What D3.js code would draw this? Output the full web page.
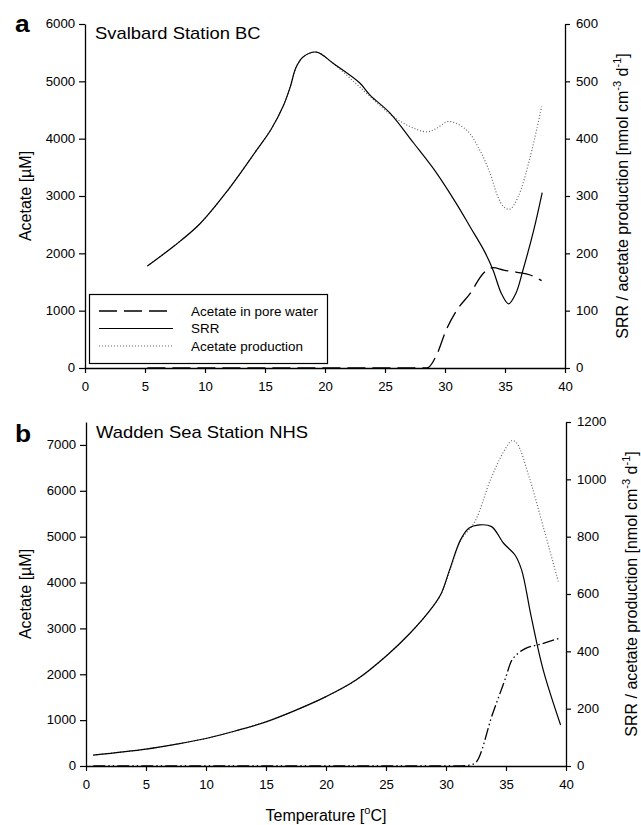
<!DOCTYPE html>
<html>
<head>
<meta charset="utf-8">
<script src="https://cdn.jsdelivr.net/npm/d3@7"></script>
<style>
  body { margin: 0; background: #fff; }
  svg { display: block; }
</style>
</head>
<body>
<div class="canvas"></div>
<script>
// ---- data ----
const tempTicks = [0, 5, 10, 15, 20, 25, 30, 35, 40];

// panel a: Svalbard Station BC
const aLeftTicks = [0, 1000, 2000, 3000, 4000, 5000, 6000];
const aRightTicks = [0, 100, 200, 300, 400, 500, 600];
const aSrrT = [5.2, 7.5, 9.6, 11.9, 14.3, 15.5, 16.5, 17.1, 17.6, 18.2, 19.3, 20.7, 22.9, 23.75, 25.4, 27.4, 29.3, 31.0, 32.1, 33.3, 34.0, 34.7, 35.3, 35.9, 36.5, 37.4, 38.1];
const aSrr = [178, 214, 252, 310, 380, 416, 456, 490, 525, 543, 551, 531, 497, 476, 445, 392, 340, 285, 246, 203, 171, 130, 112, 130, 171, 241, 306];
const aProdT = [5.2, 7.5, 9.6, 11.9, 14.3, 15.5, 16.5, 17.1, 17.6, 18.2, 19.3, 20.4, 22.9, 25.4, 27.1, 28.5, 29.3, 30.3, 31.8, 32.9, 33.75, 34.4, 34.9, 35.4, 36.1, 37.1, 38.05];
const aProd = [178, 214, 252, 310, 380, 416, 456, 490, 525, 543, 551, 536, 490, 443, 421, 412, 418, 430, 415, 380, 340, 299, 281, 277, 299, 368, 456];
const aPoreT = [5.2, 25.0, 28.5, 29.3, 30.1, 31.0, 32.1, 33.2, 34.0, 34.9, 36.0, 37.1, 38.05];
const aPore = [0, 0, 0, 227, 663, 1012, 1303, 1652, 1750, 1709, 1669, 1622, 1523];

// panel b: Wadden Sea Station NHS
const bLeftTicks = [0, 1000, 2000, 3000, 4000, 5000, 6000, 7000];
const bRightTicks = [0, 200, 400, 600, 800, 1000, 1200];
const bSrrT = [0.6, 5.0, 7.5, 10.0, 12.5, 15.0, 17.5, 20.0, 22.5, 25.0, 27.0, 28.9, 29.6, 30.3, 31.2, 31.9, 32.8, 33.8, 34.8, 35.75, 36.3, 37.1, 38.1, 39.55];
const bSrr = [38, 59, 76, 96, 123, 154, 195, 242, 300, 383, 463, 556, 602, 684, 788, 829, 841, 835, 777, 736, 684, 521, 335, 143];
const bProdT = [0.6, 5.0, 7.5, 10.0, 12.5, 15.0, 17.5, 20.0, 22.5, 25.0, 27.0, 28.9, 29.6, 30.3, 31.2, 32.4, 33.7, 34.8, 35.5, 35.9, 37.0, 38.1, 39.4];
const bProd = [38, 59, 76, 96, 123, 154, 195, 242, 300, 383, 463, 556, 600, 680, 785, 852, 998, 1096, 1135, 1126, 998, 835, 637];
const bPoreT = [0.6, 31.0, 32.0, 32.5, 33.9, 35.0, 35.4, 35.9, 36.6, 37.8, 39.4];
const bPore = [0, 0, 20, 80, 1150, 1950, 2260, 2430, 2560, 2650, 2780];

const legendLabels = ['Acetate in pore water', 'SRR', 'Acetate production'];

// ---- drawing ----
const font = "'Liberation Sans', Arial, sans-serif";

const svg = d3.select('.canvas')
  .append('svg')
  .attr('width', 641)
  .attr('height', 825)
  .attr('font-family', font);

const zip = (xs, ys) => xs.map((t, i) => [t, ys[i]]);

function addText(x, y, str, opts = {}) {
  const sx = opts.sx || 1;
  const rot = opts.rotate ? ` rotate(${opts.rotate})` : '';
  return svg.append('text')
    .attr('transform', `translate(${x},${y}) scale(${sx},1)${rot}`)
    .attr('font-size', opts.size || 12)
    .attr('font-weight', opts.weight || 'normal')
    .attr('text-anchor', opts.anchor || 'start')
    .attr('fill', '#000')
    .text(str);
}

function styleAxis(g) {
  g.attr('font-family', font).attr('font-size', 12);
  g.select('.domain').attr('stroke-width', 1.3);
  g.selectAll('.tick line').attr('stroke-width', 1.2);
  g.selectAll('.tick text').attr('fill', '#000').attr('transform', 'scale(1.1,1)');
}

const fmt = d3.format('d');

function drawPanel(p) {
  const x = d3.scaleLinear().domain([0, 40]).range(p.xRange);
  const yL = d3.scaleLinear().domain([0, p.leftMax]).range(p.yRange);
  const yR = d3.scaleLinear().domain([0, p.rightMax]).range(p.yRange);

  svg.append('g')
    .attr('transform', `translate(0,${p.yRange[0]})`)
    .call(d3.axisBottom(x).tickValues(tempTicks).tickFormat(fmt).tickSize(5).tickPadding(9).tickSizeOuter(0))
    .call(styleAxis);
  svg.append('g')
    .attr('transform', `translate(${p.xRange[0]},0)`)
    .call(d3.axisLeft(yL).tickValues(p.leftTicks).tickFormat(fmt).tickSize(6).tickPadding(3).tickSizeOuter(0))
    .call(styleAxis);
  svg.append('g')
    .attr('transform', `translate(${p.xRange[1]},0)`)
    .call(d3.axisRight(yR).tickValues(p.rightTicks).tickFormat(fmt).tickSize(5).tickPadding(5).tickSizeOuter(0))
    .call(styleAxis);

  // rates are smooth splines; pore water uses monotone so it never dips below zero
  const lineR = d3.line().x(d => x(d[0])).y(d => yR(d[1])).curve(d3.curveCatmullRom.alpha(0.5));
  const lineL = d3.line().x(d => x(d[0])).y(d => yL(d[1])).curve(d3.curveMonotoneX);

  svg.append('path').datum(zip(p.prodT, p.prod))
    .attr('d', lineR).attr('fill', 'none')
    .attr('stroke', '#666').attr('stroke-width', 1.2).attr('stroke-dasharray', '1,2');
  svg.append('path').datum(zip(p.srrT, p.srr))
    .attr('d', lineR).attr('fill', 'none')
    .attr('stroke', '#000').attr('stroke-width', 1.2);
  svg.append('path').datum(zip(p.poreT, p.pore))
    .attr('d', lineL).attr('fill', 'none')
    .attr('stroke', '#000').attr('stroke-width', 1.3).attr('stroke-dasharray', p.poreDash);

  const midY = (p.yRange[0] + p.yRange[1]) / 2;
  addText(p.letterX, p.letterY, p.letter, { size: 24, weight: 'bold', sx: 1.1 });
  addText(p.titleX, p.titleY, p.title, { size: 16, sx: 1.15 });
  addText(31, midY, 'Acetate [\u00b5M]', { size: 16, anchor: 'middle', rotate: -90 });
  const rt = addText(p.rightTitleX, midY, '', { size: 16, anchor: 'middle', rotate: -90 });
  rt.append('tspan').text('SRR / acetate production [nmol cm');
  rt.append('tspan').attr('font-size', 11).attr('dy', -7).text('-3');
  rt.append('tspan').attr('dy', 7).text(' d');
  rt.append('tspan').attr('font-size', 11).attr('dy', -7).text('-1');
  rt.append('tspan').attr('dy', 7).text(']');
}

drawPanel({
  letter: 'a', letterX: 15, letterY: 32,
  title: 'Svalbard Station BC', titleX: 95, titleY: 39,
  xRange: [85, 565], yRange: [368, 24],
  leftMax: 6000, rightMax: 600,
  leftTicks: aLeftTicks, rightTicks: aRightTicks,
  srrT: aSrrT, srr: aSrr, prodT: aProdT, prod: aProd, poreT: aPoreT, pore: aPore,
  poreDash: '18,7', rightTitleX: 628
});

drawPanel({
  letter: 'b', letterX: 15, letterY: 442,
  title: 'Wadden Sea Station NHS', titleX: 96, titleY: 438,
  xRange: [86, 566], yRange: [766, 422],
  leftMax: 7500, rightMax: 1200,
  leftTicks: bLeftTicks, rightTicks: bRightTicks,
  srrT: bSrrT, srr: bSrr, prodT: bProdT, prod: bProd, poreT: bPoreT, pore: bPore,
  poreDash: '12,3,1.5,3,1.5,3', rightTitleX: 637
});

// x axis title
const xt = addText(326, 821, '', { size: 16, anchor: 'middle' });
xt.append('tspan').text('Temperature [');
xt.append('tspan').attr('font-size', 11).attr('dy', -7).text('o');
xt.append('tspan').attr('dy', 7).text('C]');

// legend in panel a
const legend = svg.append('g');
legend.append('rect')
  .attr('x', 89.5).attr('y', 294.5).attr('width', 238).attr('height', 69)
  .attr('fill', '#fff').attr('stroke', '#000').attr('stroke-width', 1.2);
const legendStyles = [
  { stroke: '#000', dash: '18,7', width: 1.3 },
  { stroke: '#000', dash: null, width: 1.2 },
  { stroke: '#666', dash: '1,2', width: 1.2 }
];
const legendY = d3.scalePoint().domain(legendLabels).range([311, 346]);
legendLabels.forEach((lab, i) => {
  const s = legendStyles[i];
  legend.append('line')
    .attr('x1', 99).attr('x2', 173)
    .attr('y1', legendY(lab)).attr('y2', legendY(lab))
    .attr('stroke', s.stroke).attr('stroke-width', s.width)
    .attr('stroke-dasharray', s.dash);
  addText(191, legendY(lab) + 4.5, lab, { size: 12, sx: 1.12 });
});
</script>
</body>
</html>
